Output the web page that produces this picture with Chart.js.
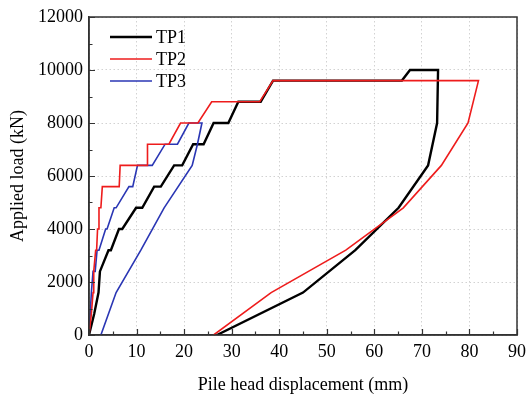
<!DOCTYPE html>
<html>
<head>
<meta charset="utf-8">
<script src="https://cdn.jsdelivr.net/npm/chart.js@4/dist/chart.umd.min.js"></script>
<style>
  html, body { margin: 0; padding: 0; background: #ffffff; }
  #wrap { width: 532px; height: 396px; }
</style>
</head>
<body>
<div id="wrap"><canvas id="c" width="532" height="396"></canvas></div>
<script>
// ---- Data ----
const seriesNames = ['TP1', 'TP2', 'TP3'];

const tp1X = [0, 1.1, 2.0, 2.3, 4.1, 4.6, 6.3, 7.0, 9.9, 11.2, 13.7, 15.1, 17.9, 19.6, 21.9, 24.1, 26.2, 29.3, 31.4, 36.1, 38.7, 65.8, 67.5, 73.4, 73.2, 71.3, 65.1, 56.0, 45.0, 26.9];
const tp1Y = [0, 800, 1600, 2400, 3200, 3200, 4000, 4000, 4800, 4800, 5600, 5600, 6400, 6400, 7200, 7200, 8000, 8000, 8800, 8800, 9600, 9600, 10000, 10000, 8000, 6400, 4800, 3200, 1600, 0];

const tp2X = [0, 0.5, 0.85, 1.0, 1.4, 1.6, 1.8, 2.0, 2.1, 2.5, 2.8, 6.35, 6.55, 12.2, 12.3, 16.8, 19.25, 22.9, 25.8, 35.9, 38.7, 81.9, 79.7, 74.1, 66.1, 54.0, 38.3, 26.2];
const tp2Y = [0, 800, 1600, 2400, 3200, 3200, 4000, 4000, 4800, 4800, 5600, 5600, 6400, 6400, 7200, 7200, 8000, 8000, 8800, 8800, 9600, 9600, 8000, 6400, 4800, 3200, 1600, 0];

const tp3X = [0, 0.5, 0.85, 1.3, 1.7, 2.1, 3.5, 3.8, 5.3, 5.7, 8.4, 9.2, 10.2, 13.3, 16.0, 18.6, 21.0, 23.75, 22.8, 21.7, 15.8, 10.9, 5.7, 2.5];
const tp3Y = [0, 1600, 2400, 2400, 3200, 3200, 4000, 4000, 4800, 4800, 5600, 5600, 6400, 6400, 7200, 7200, 8000, 8000, 7200, 6400, 4800, 3200, 1600, 0];

const xTicks = [0, 10, 20, 30, 40, 50, 60, 70, 80, 90];
const yTicks = [0, 2000, 4000, 6000, 8000, 10000, 12000];

const xTitle = 'Pile head displacement (mm)';
const yTitle = 'Applied load (kN)';

// ---- Styles ----
const colors = ['#000000', '#ee1c1c', '#2a36b4'];
const widths = [2.4, 1.6, 1.6];
const FONT = "'Liberation Serif', 'Times New Roman', serif";

function pts(xs, ys) { return xs.map((x, i) => ({ x: x, y: ys[i] })); }

const dataSets = [[tp1X, tp1Y], [tp2X, tp2Y], [tp3X, tp3Y]].map((s, i) => ({
  label: seriesNames[i],
  data: pts(s[0], s[1]),
  borderColor: colors[i],
  backgroundColor: colors[i],
  borderWidth: widths[i],
  pointRadius: 0,
  showLine: true,
  fill: false,
  tension: 0,
  order: [3, 1, 2][i]
}));

const frameAndLegend = {
  id: 'frameAndLegend',
  afterDraw(chart) {
    const ctx = chart.ctx;
    const a = chart.chartArea;
    const xs = chart.scales.x, ys = chart.scales.y;
    ctx.save();
    // frame
    ctx.strokeStyle = '#333333';
    ctx.lineWidth = 1.5;
    ctx.strokeRect(a.left, a.top, a.right - a.left, a.bottom - a.top);
    // inward ticks
    ctx.lineWidth = 1.2;
    ctx.beginPath();
    for (let v = 0; v <= 90; v += 5) {
      const px = Math.round(xs.getPixelForValue(v)) + 0.5;
      const len = (v % 10 === 0) ? 6 : 3.5;
      ctx.moveTo(px, a.bottom);
      ctx.lineTo(px, a.bottom - len);
    }
    for (let v = 0; v <= 12000; v += 1000) {
      const py = Math.round(ys.getPixelForValue(v)) + 0.5;
      const len = (v % 2000 === 0) ? 6 : 3.5;
      ctx.moveTo(a.left, py);
      ctx.lineTo(a.left + len, py);
    }
    ctx.stroke();
    // legend
    const lx0 = a.left + 21, lx1 = a.left + 63;
    const ly0 = a.top + 20, gap = 22;
    ctx.font = '18px ' + FONT;
    ctx.textBaseline = 'middle';
    ctx.textAlign = 'left';
    chart.data.datasets.forEach((ds, i) => {
      const y = ly0 + i * gap;
      ctx.strokeStyle = ds.borderColor;
      ctx.lineWidth = ds.borderWidth;
      ctx.beginPath();
      ctx.moveTo(lx0, y);
      ctx.lineTo(lx1, y);
      ctx.stroke();
      ctx.fillStyle = '#000';
      ctx.fillText(ds.label, lx1 + 4, y + 1);
    });
    ctx.restore();
  }
};

new Chart(document.getElementById('c'), {
  type: 'scatter',
  data: { datasets: dataSets },
  options: {
    responsive: false,
    animation: false,
    devicePixelRatio: 1,
    layout: { padding: { left: 0, right: 11, top: 17, bottom: 0 } },
    plugins: { legend: { display: false }, tooltip: { enabled: false } },
    scales: {
      x: {
        type: 'linear',
        min: 0, max: 90,
        afterBuildTicks(scale) { scale.ticks = xTicks.map(v => ({ value: v })); },
        afterFit(scale) { scale.height = 61; },
        grid: { color: '#d2d2d2', lineWidth: 1, drawTicks: false },
        border: { display: true, color: '#333333', width: 1.5, dash: [1.5, 2.5] },
        ticks: { color: '#000', font: { family: FONT, size: 18 }, padding: 6, maxRotation: 0 },
        title: { display: true, text: xTitle, color: '#000', font: { family: FONT, size: 18 }, padding: { top: 3, bottom: 0 } }
      },
      y: {
        type: 'linear',
        min: 0, max: 12000,
        afterBuildTicks(scale) { scale.ticks = yTicks.map(v => ({ value: v })); },
        afterFit(scale) { scale.width = 89; },
        grid: { color: '#d2d2d2', lineWidth: 1, drawTicks: false },
        border: { display: true, color: '#333333', width: 1.5, dash: [1.5, 2.5] },
        ticks: { color: '#000', font: { family: FONT, size: 18 }, padding: 6, callback: v => String(v) },
        title: { display: true, text: yTitle, color: '#000', font: { family: FONT, size: 18 }, padding: { top: 7, bottom: 0 } }
      }
    }
  },
  plugins: [frameAndLegend]
});
</script>
</body>
</html>
